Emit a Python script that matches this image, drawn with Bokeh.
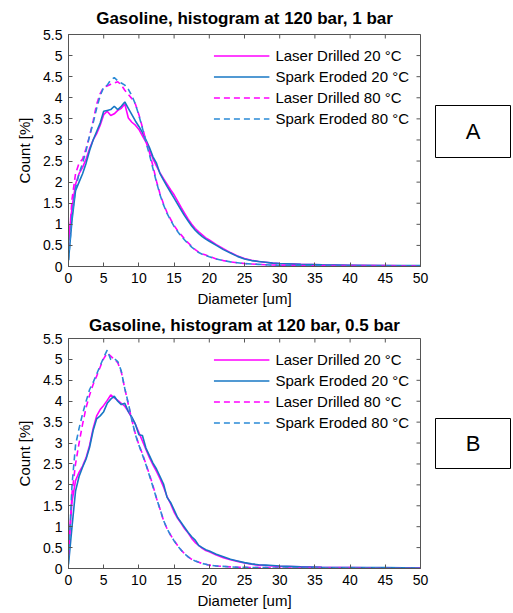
from bokeh.plotting import figure
from bokeh.layouts import column, row
from bokeh.models import Range1d, FixedTicker, Label, Spacer
from bokeh.embed import file_html
from bokeh.resources import INLINE

# ---------------- data ----------------
DIAMETER = [0, 0.5, 1, 1.5, 2, 2.5, 3, 3.5, 4, 4.5, 5, 5.5, 6, 6.5, 7, 7.5, 8, 8.5, 9, 9.5,
            10, 10.5, 11, 11.5, 12, 12.5, 13, 13.5, 14, 14.5, 15, 15.5, 16, 16.5, 17, 17.5,
            18, 18.5, 19, 19.5, 20, 21, 22, 23, 24, 25, 26, 27, 28, 29, 30, 33, 36, 40, 45, 50]

SERIES_NAMES = ["Laser Drilled 20 °C", "Spark Eroded 20 °C", "Laser Drilled 80 °C", "Spark Eroded 80 °C"]

# Panel A: 120 bar, 1 bar
A_LD20 = [0.6, 1.4, 1.95, 2.2, 2.35, 2.55, 2.8, 3.0, 3.15, 3.35, 3.6, 3.68, 3.58, 3.62, 3.7, 3.75,
          3.85, 3.52, 3.42, 3.35, 3.25, 3.1, 2.95, 2.78, 2.55, 2.38, 2.22, 2.08, 1.95, 1.82, 1.7,
          1.55, 1.4, 1.26, 1.12, 1.0, 0.9, 0.82, 0.75, 0.68, 0.63, 0.52, 0.42, 0.33, 0.25, 0.19,
          0.15, 0.12, 0.1, 0.08, 0.07, 0.05, 0.04, 0.03, 0.02, 0.01]
A_SE20 = [0.15, 1.1, 1.8, 2.0, 2.2, 2.45, 2.75, 3.0, 3.2, 3.4, 3.68, 3.7, 3.72, 3.8, 3.72, 3.8,
          3.9, 3.75, 3.6, 3.45, 3.32, 3.18, 3.0, 2.82, 2.6, 2.45, 2.2, 2.05, 1.9, 1.76, 1.62,
          1.48, 1.34, 1.2, 1.08, 0.96, 0.86, 0.78, 0.71, 0.65, 0.6, 0.5, 0.4, 0.32, 0.24, 0.18,
          0.14, 0.12, 0.1, 0.08, 0.07, 0.05, 0.04, 0.03, 0.02, 0.02]
A_LD80 = [0.4, 1.6, 2.2, 2.45, 2.55, 2.8, 3.1, 3.45, 3.85, 4.1, 4.25, 4.28, 4.32, 4.35, 4.38, 4.3,
          4.18, 4.08, 3.98, 3.85, 3.6, 3.3, 2.98, 2.7, 2.38, 2.02, 1.72, 1.48, 1.28, 1.12, 0.97,
          0.85, 0.75, 0.65, 0.56, 0.48, 0.4, 0.34, 0.3, 0.27, 0.24, 0.18, 0.14, 0.11, 0.09, 0.07,
          0.06, 0.05, 0.04, 0.035, 0.03, 0.02, 0.015, 0.01, 0.01, 0.01]
A_SE80 = [0.15, 1.2, 1.85, 2.2, 2.45, 2.75, 3.1, 3.4, 3.75, 4.05, 4.25, 4.3, 4.42, 4.48, 4.4, 4.35,
          4.3, 4.2, 4.05, 3.85, 3.58, 3.28, 2.95, 2.65, 2.32, 2.0, 1.7, 1.46, 1.26, 1.1, 0.95,
          0.83, 0.72, 0.63, 0.54, 0.46, 0.39, 0.33, 0.29, 0.26, 0.23, 0.18, 0.14, 0.11, 0.09, 0.07,
          0.06, 0.05, 0.04, 0.03, 0.03, 0.02, 0.015, 0.01, 0.01, 0.01]

# Panel B: 120 bar, 0.5 bar
B_LD20 = [0.5, 1.6, 2.1, 2.3, 2.45, 2.65, 2.95, 3.35, 3.65, 3.8, 3.9, 4.02, 4.15, 4.08, 4.02, 3.95,
          3.88, 3.75, 3.6, 3.45, 3.25, 3.05, 2.85, 2.65, 2.48, 2.32, 2.15, 1.95, 1.72, 1.55, 1.35,
          1.2, 1.08, 0.95, 0.85, 0.72, 0.62, 0.55, 0.48, 0.43, 0.4, 0.32, 0.26, 0.21, 0.17, 0.13,
          0.1, 0.08, 0.07, 0.06, 0.05, 0.04, 0.03, 0.02, 0.01, 0.01]
B_SE20 = [0.1, 1.0, 1.85, 2.2, 2.42, 2.62, 2.9, 3.3, 3.58, 3.65, 3.75, 3.95, 4.05, 4.12, 4.0, 3.92,
          3.95, 3.75, 3.62, 3.45, 3.2, 3.18, 2.88, 2.7, 2.52, 2.38, 2.2, 2.02, 1.7, 1.58, 1.4,
          1.22, 1.1, 0.98, 0.86, 0.76, 0.68, 0.55, 0.5, 0.45, 0.42, 0.34, 0.28, 0.22, 0.18, 0.14,
          0.11, 0.09, 0.08, 0.07, 0.06, 0.04, 0.03, 0.02, 0.02, 0.01]
B_LD80 = [0.3, 1.8, 2.5, 3.0, 3.45, 3.85, 4.15, 4.4, 4.6, 4.82, 5.02, 5.15, 5.08, 5.0, 4.92, 4.7,
          4.3, 3.92, 3.55, 3.22, 2.96, 2.74, 2.5, 2.25, 1.98, 1.68, 1.42, 1.15, 0.95, 0.8, 0.67,
          0.55, 0.44, 0.35, 0.28, 0.22, 0.18, 0.15, 0.12, 0.1, 0.08, 0.06, 0.05, 0.04, 0.03, 0.03,
          0.02, 0.02, 0.02, 0.01, 0.01, 0.01, 0.01, 0.01, 0.0, 0.0]
B_SE80 = [0.2, 2.0, 2.95, 3.35, 3.7, 4.0, 4.28, 4.45, 4.65, 4.85, 5.05, 5.22, 5.0, 5.02, 4.95, 4.72,
          4.3, 3.95, 3.55, 3.2, 2.95, 2.72, 2.48, 2.22, 1.95, 1.68, 1.42, 1.15, 0.95, 0.8, 0.66,
          0.54, 0.44, 0.35, 0.28, 0.22, 0.18, 0.15, 0.12, 0.1, 0.08, 0.06, 0.05, 0.04, 0.03, 0.03,
          0.02, 0.02, 0.02, 0.01, 0.01, 0.01, 0.01, 0.01, 0.0, 0.0]

X_TICKS = [0, 5, 10, 15, 20, 25, 30, 35, 40, 45, 50]
X_TICK_LABELS = ["0", "5", "10", "15", "20", "25", "30", "35", "40", "45", "50"]
Y_TICKS = [0, 0.5, 1, 1.5, 2, 2.5, 3, 3.5, 4, 4.5, 5, 5.5]
Y_TICK_LABELS = ["0", "0.5", "1", "1.5", "2", "2.5", "3", "3.5", "4", "4.5", "5", "5.5"]

X_RANGE = (0, 50)
Y_RANGE = (0, 5.5)

TITLES = ["Gasoline, histogram at 120 bar, 1 bar", "Gasoline, histogram at 120 bar, 0.5 bar"]
PANEL_TAGS = ["A", "B"]
X_LABEL = "Diameter [um]"
Y_LABEL = "Count [%]"

# ---------------- style ----------------
FONT = "Liberation Sans"
AXIS_COLOR = "#555555"
COLORS = ["#ff00ff", "#1777c4", "#ff00ff", "#2a8ad6"]
DASHES = ["solid", "solid", "6 4", "6 4"]
FRAME_W = 352
TICK_LEN = 4


def style_axis(ax, ticks, labels):
    ax.ticker = FixedTicker(ticks=ticks)
    ax.major_label_overrides = {t: l for t, l in zip(ticks, labels)}
    ax.major_tick_in = TICK_LEN
    ax.major_tick_out = 0
    ax.minor_tick_in = 0
    ax.minor_tick_out = 0
    ax.axis_line_color = AXIS_COLOR
    ax.major_tick_line_color = AXIS_COLOR
    ax.major_label_text_font = FONT
    ax.major_label_text_color = "black"
    ax.major_label_text_font_size = "14px"
    ax.major_label_standoff = 6
    ax.axis_label_text_font = FONT
    ax.axis_label_text_font_size = "15px"
    ax.axis_label_text_font_style = "normal"
    ax.axis_label_text_color = "black"


def make_panel(title, series, top, frame_h, bottom, title_standoff):
    p = figure(frame_width=FRAME_W, frame_height=frame_h,
               min_border_left=68, min_border_right=14,
               min_border_top=top, min_border_bottom=bottom,
               x_range=Range1d(*X_RANGE), y_range=Range1d(*Y_RANGE),
               output_backend="svg", toolbar_location=None)
    p.xgrid.visible = False
    p.ygrid.visible = False
    p.outline_line_color = AXIS_COLOR
    p.background_fill_color = "white"
    p.border_fill_color = "white"

    p.title.text = title
    p.title.align = "center"
    p.title.text_font = FONT
    p.title.text_font_size = "17px"
    p.title.text_font_style = "bold"
    p.title.text_color = "black"
    p.title.standoff = title_standoff

    style_axis(p.xaxis[0], X_TICKS, X_TICK_LABELS)
    style_axis(p.yaxis[0], Y_TICKS, Y_TICK_LABELS)
    p.xaxis.axis_label = X_LABEL
    p.yaxis.axis_label = Y_LABEL
    p.xaxis[0].axis_label_standoff = 4
    p.yaxis[0].axis_label_standoff = 7

    # inward ticks on the right and top edges of the box (MATLAB style)
    dx = TICK_LEN * (X_RANGE[1] - X_RANGE[0]) / FRAME_W
    dy = TICK_LEN * (Y_RANGE[1] - Y_RANGE[0]) / frame_h
    p.segment(x0=[X_RANGE[1]] * len(Y_TICKS), y0=Y_TICKS,
              x1=[X_RANGE[1] - dx] * len(Y_TICKS), y1=Y_TICKS,
              line_color=AXIS_COLOR, line_width=1)
    p.segment(x0=X_TICKS, y0=[Y_RANGE[1]] * len(X_TICKS),
              x1=X_TICKS, y1=[Y_RANGE[1] - dy] * len(X_TICKS),
              line_color=AXIS_COLOR, line_width=1)

    for name, ys, c, d in zip(SERIES_NAMES, series, COLORS, DASHES):
        p.line(DIAMETER, ys, line_color=c, line_width=1.6, line_dash=d, legend_label=name)

    lg = p.legend[0]
    lg.location = "top_right"
    lg.border_line_alpha = 0
    lg.background_fill_alpha = 0
    lg.label_text_font = FONT
    lg.label_text_font_size = "15px"
    lg.label_text_color = "black"
    lg.glyph_width = 56
    lg.glyph_height = 21
    lg.label_height = 21
    lg.spacing = 0
    lg.padding = 11
    lg.margin = 0
    lg.label_standoff = 6
    return p


def make_tag(tag, frame_h):
    b = figure(frame_width=75, frame_height=frame_h,
               min_border_left=1, min_border_right=1, min_border_top=1, min_border_bottom=1,
               x_range=Range1d(0, 1), y_range=Range1d(0, 1),
               x_axis_type=None, y_axis_type=None,
               output_backend="svg", toolbar_location=None)
    b.xgrid.visible = False
    b.ygrid.visible = False
    b.outline_line_color = "black"
    b.outline_line_width = 1
    b.border_fill_color = "white"
    b.add_layout(Label(x=0.5, y=0.5, text=tag, text_align="center", text_baseline="middle",
                       text_font=FONT, text_font_size="22px", text_color="black"))
    return b


pA = make_panel(TITLES[0], [A_LD20, A_SE20, A_LD80, A_SE80], 34, 232, 42, 13)
pB = make_panel(TITLES[1], [B_LD20, B_SE20, B_LD80, B_SE80], 29, 230, 43, 8)

tagA = make_tag(PANEL_TAGS[0], 52)
tagB = make_tag(PANEL_TAGS[1], 50)

layout = column(
    row(pA, column(Spacer(width=77, height=104), tagA)),
    row(pB, column(Spacer(width=77, height=108), tagB)),
)

open("out.html", "w").write(file_html(layout, INLINE))
